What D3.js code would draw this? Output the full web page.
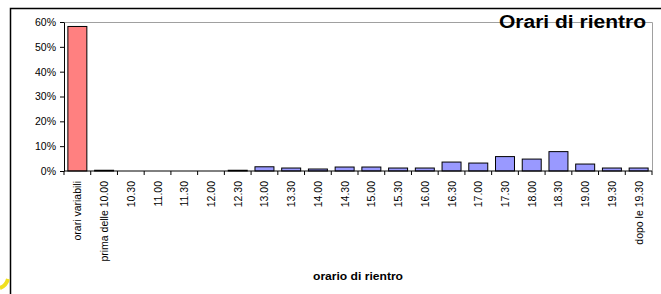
<!DOCTYPE html>
<html>
<head>
<meta charset="utf-8">
<script src="https://cdn.jsdelivr.net/npm/d3@7"></script>
<style>
  body { margin: 0; background: #fff; }
  svg { display: block; font-family: "Liberation Sans", Arial, sans-serif; }
</style>
</head>
<body>
<div id="chart"></div>
<script>
const categories = ['orari variabili', 'prima delle 10.00', '10.30', '11.00', '11.30', '12.00', '12.30',
  '13.00', '13.30', '14.00', '14.30', '15.00', '15.30', '16.00', '16.30', '17.00', '17.30',
  '18.00', '18.30', '19.00', '19.30', 'dopo le 19.30'];
const values = [58.2, 0.3, 0, 0, 0, 0, 0.3, 1.7, 1.2, 0.8, 1.6, 1.6, 1.2, 1.2, 3.6, 3.2, 5.8,
  4.8, 7.8, 2.8, 1.2, 1.2];
const yTicks = [0, 10, 20, 30, 40, 50, 60];

const width = 661;
const height = 294;
const margin = { top: 22, right: 9, bottom: 123, left: 64 };

const svg = d3.select('#chart')
  .append('svg')
  .attr('width', width)
  .attr('height', height);

// frame around the slide
svg.append('path')
  .attr('d', `M10.5,${height} V8.5 H${width}`)
  .attr('fill', 'none')
  .attr('stroke', '#000')
  .attr('stroke-width', 1.5);

// bit of logo peeking in bottom-left
svg.append('path')
  .attr('d', 'M0,288 Q6,286 8,279')
  .attr('fill', 'none')
  .attr('stroke', '#f0e020')
  .attr('stroke-width', 4);

const x = d3.scaleBand()
  .domain(categories)
  .range([margin.left, width - margin.right])
  .paddingInner(0.29)
  .paddingOuter(0.145);

const y = d3.scaleLinear()
  .domain([0, 60])
  .range([height - margin.bottom, margin.top]);

// plot area border (gray)
svg.append('path')
  .attr('d', `M${margin.left},${margin.top + 0.5} H${width - margin.right + 0.5} V${y(0)}`)
  .attr('fill', 'none')
  .attr('stroke', '#a0a0a0')
  .attr('stroke-width', 1);

svg.append('g')
  .selectAll('rect')
  .data(values)
  .join('rect')
  .attr('x', (d, i) => x(categories[i]))
  .attr('y', d => y(d))
  .attr('width', x.bandwidth())
  .attr('height', d => y(0) - y(d))
  .attr('fill', (d, i) => i === 0 ? '#ff8080' : '#9999ff')
  .attr('stroke', '#000')
  .attr('stroke-width', d => d > 0 ? 1 : 0);

// y axis
const yAxis = svg.append('g')
  .attr('transform', `translate(${margin.left},0)`)
  .call(d3.axisLeft(y).tickValues(yTicks).tickFormat(d => d + '%').tickSize(4).tickSizeOuter(0));
yAxis.selectAll('text').attr('font-size', '10.5px').attr('fill', '#000').attr('x', -8);
yAxis.select('.domain').attr('stroke', '#000');

// x axis: ticks at band boundaries
const xAxis = svg.append('g')
  .attr('transform', `translate(0,${y(0)})`);
xAxis.append('line')
  .attr('x1', margin.left).attr('x2', width - margin.right)
  .attr('stroke', '#000');
const step = x.step();
const start = x(categories[0]) - x.paddingOuter() * step;
xAxis.selectAll('.tk')
  .data(d3.range(categories.length + 1))
  .join('line')
  .attr('class', 'tk')
  .attr('x1', i => start + i * step)
  .attr('x2', i => start + i * step)
  .attr('y1', 0).attr('y2', 4)
  .attr('stroke', '#000');
xAxis.selectAll('text')
  .data(categories)
  .join('text')
  .attr('transform', d => `translate(${x(d) + x.bandwidth() / 2 + 4},10) rotate(-90)`)
  .attr('text-anchor', 'end')
  .attr('font-size', '10.5px')
  .text(d => d);

// axis title
svg.append('text')
  .attr('x', 313)
  .attr('y', 279.5)
  .attr('font-size', '11.5px')
  .attr('font-weight', 'bold')
  .attr('textLength', 90)
  .attr('lengthAdjust', 'spacingAndGlyphs')
  .text('orario di rientro');

// chart title
svg.append('text')
  .attr('x', 499)
  .attr('y', 28)
  .attr('font-size', '18px')
  .attr('font-weight', 'bold')
  .attr('textLength', 147)
  .attr('lengthAdjust', 'spacingAndGlyphs')
  .text('Orari di rientro');
</script>
</body>
</html>
